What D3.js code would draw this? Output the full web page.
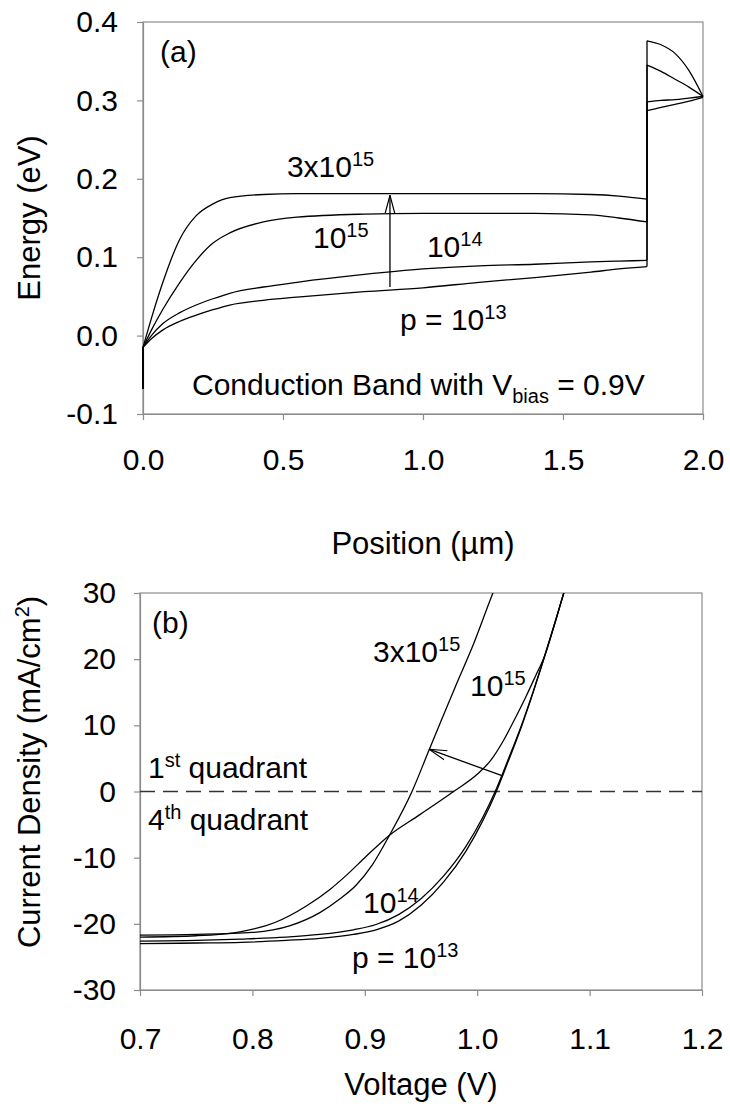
<!DOCTYPE html>
<html>
<head>
<meta charset="utf-8">
<script src="https://cdn.jsdelivr.net/npm/d3@7"></script>
<style>
  body { margin: 0; background: #fff; }
  text { font-family: "Liberation Sans", Arial, sans-serif; fill: #000; white-space: pre; }
</style>
</head>
<body>
<svg id="chart" width="730" height="1106"></svg>
<script>
// ---- panel (a): conduction band, energy vs position ----
const posA = [0, 0, 0.03, 0.07, 0.13, 0.19, 0.25, 0.31, 0.43, 0.55, 0.79, 1.0, 1.2, 1.4, 1.6, 1.7, 1.8, 1.8, 1.85, 1.9, 1.95, 2.0];
const energy3e15 = [-0.068, -0.015, 0.022, 0.067, 0.122, 0.153, 0.168, 0.176, 0.180, 0.181, 0.181, 0.181, 0.181, 0.181, 0.180, 0.178, 0.174, 0.376, 0.371, 0.360, 0.338, 0.305];
const energy1e15 = [-0.068, -0.015, 0.007, 0.033, 0.067, 0.096, 0.118, 0.131, 0.145, 0.151, 0.155, 0.156, 0.156, 0.156, 0.154, 0.150, 0.145, 0.345, 0.337, 0.327, 0.317, 0.305];
const energy1e14 = [-0.068, -0.015, 0.000, 0.015, 0.029, 0.039, 0.047, 0.054, 0.062, 0.068, 0.078, 0.085, 0.089, 0.091, 0.094, 0.095, 0.096, 0.298, 0.300, 0.301, 0.303, 0.305];
const energy1e13 = [-0.068, -0.015, -0.004, 0.007, 0.018, 0.026, 0.033, 0.039, 0.045, 0.049, 0.056, 0.061, 0.068, 0.074, 0.081, 0.085, 0.088, 0.287, 0.291, 0.295, 0.299, 0.304];
const ticksPos = [0, 0.5, 1.0, 1.5, 2.0];
const ticksEnergy = [-0.1, 0, 0.1, 0.2, 0.3, 0.4];
const arrowA = [[0.882, 0.062], [0.882, 0.179]];

// ---- panel (b): J-V curves ----
const volt3e15 = [0.70, 0.75, 0.80, 0.833, 0.86, 0.878, 0.892, 0.907, 0.922, 0.942, 0.957, 0.967, 0.98, 0.997, 1.014, 1.025];
const curr3e15 = [-21.7, -21.6, -21.3, -20.3, -18.3, -16.2, -14.2, -11.0, -6.6, 0, 6.2, 10.3, 15.6, 22.4, 30, 34.5];
const volt1e15 = [0.70, 0.75, 0.789, 0.82, 0.848, 0.869, 0.884, 0.90, 0.922, 0.949, 0.979, 1.0, 1.012, 1.023, 1.033, 1.043, 1.052, 1.06, 1.07, 1.077, 1.083];
const curr1e15 = [-22.0, -21.8, -21.2, -19.8, -17.3, -14.8, -12.6, -10.0, -6.6, -3.5, 0, 2.6, 4.7, 7.6, 10.8, 14.2, 17.5, 20.5, 26.0, 30, 33.3];
const volt1e14 = [0.70, 0.75, 0.79, 0.83, 0.86, 0.89, 0.91, 0.93, 0.95, 0.97, 0.99, 1.005, 1.016, 1.027, 1.04, 1.05, 1.06, 1.07, 1.077, 1.083];
const curr1e14 = [-22.6, -22.5, -22.3, -22.0, -21.6, -20.9, -20.1, -18.6, -16.2, -12.8, -8.3, -3.9, 0, 4.6, 10.3, 15.2, 20.5, 26.0, 30, 33.3];
const volt1e13 = [0.70, 0.75, 0.79, 0.83, 0.86, 0.89, 0.91, 0.93, 0.95, 0.97, 0.99, 1.005, 1.016, 1.027, 1.04, 1.05, 1.06, 1.07, 1.077, 1.083];
const curr1e13 = [-23.0, -22.9, -22.8, -22.5, -22.2, -21.6, -20.9, -19.6, -17.2, -13.7, -9.0, -4.4, -0.4, 4.3, 10.1, 15.1, 20.4, 25.9, 30, 33.3];
const ticksVolt = [0.7, 0.8, 0.9, 1.0, 1.1, 1.2];
const ticksCurr = [-30, -20, -10, 0, 10, 20, 30];
const arrowB = [[1.022, 2.4], [0.957, 6.4]];

const svg = d3.select('#chart');
svg.append('rect').attr('width', 730).attr('height', 1106).attr('fill', '#fff');

// open arrow head
svg.append('defs').append('marker')
    .attr('id', 'head')
    .attr('viewBox', '0 -6 18 12')
    .attr('markerUnits', 'userSpaceOnUse')
    .attr('markerWidth', 18)
    .attr('markerHeight', 12)
    .attr('refX', 18)
    .attr('refY', 0)
    .attr('orient', 'auto')
  .append('path')
    .attr('d', 'M0,-4.8 L18,0 L0,4.8')
    .attr('fill', 'none')
    .attr('stroke', '#000')
    .attr('stroke-width', 1.2);

const FS = 30;     // main font size
const FT = 31;     // axis title size
const SUP = 20;    // super/subscript size

// text with superscript / subscript parts: [str, 'sup'|'sub'|undefined]
function richText(g, x, y, parts, anchor, size) {
  const fs = size || FS;
  const t = g.append('text').attr('x', x).attr('y', y)
      .style('font-size', fs + 'px')
      .attr('text-anchor', anchor || 'start');
  let shift = 0;
  parts.forEach(([s, kind]) => {
    const target = kind === 'sup' ? -11 : kind === 'sub' ? 8 : 0;
    t.append('tspan')
        .attr('dy', target - shift)
        .style('font-size', (kind ? SUP : fs) + 'px')
        .text(s);
    shift = target;
  });
  return t;
}

// splits a polyline where x repeats, so vertical jumps stay straight
function segments(xs, ys) {
  const segs = [];
  let cur = [[xs[0], ys[0]]];
  for (let i = 1; i < xs.length; i++) {
    if (xs[i] === xs[i - 1]) {
      if (cur.length > 1) segs.push(cur);
      segs.push([[xs[i - 1], ys[i - 1]], [xs[i], ys[i]]]);
      cur = [[xs[i], ys[i]]];
    } else {
      cur.push([xs[i], ys[i]]);
    }
  }
  if (cur.length > 1) segs.push(cur);
  return segs;
}

function drawFrame(g, x, y, xTicks, yTicks, fmtX, fmtY, padX, padY) {
  const [x0, x1] = x.range();
  const [y0, y1] = y.range();
  g.append('rect')
      .attr('x', x0).attr('y', y1)
      .attr('width', x1 - x0).attr('height', y0 - y1)
      .attr('fill', 'none').attr('stroke', '#8c8c8c').attr('stroke-width', 1.2);

  const ax = g.append('g').attr('transform', `translate(0,${y0})`)
      .call(d3.axisBottom(x).tickValues(xTicks).tickFormat(fmtX).tickSize(6).tickSizeOuter(0).tickPadding(padX));
  const ay = g.append('g').attr('transform', `translate(${x0},0)`)
      .call(d3.axisLeft(y).tickValues(yTicks).tickFormat(fmtY).tickSize(6).tickSizeOuter(0).tickPadding(padY));
  [ax, ay].forEach(a => {
    a.select('.domain').attr('stroke', '#8c8c8c').attr('stroke-width', 1.2);
    a.selectAll('.tick line').attr('stroke', '#8c8c8c').attr('stroke-width', 1.2);
    a.selectAll('.tick text').attr('fill', '#000')
        .style('font-size', FS + 'px')
        .style('font-family', '"Liberation Sans", Arial, sans-serif');
  });
}

// ================= panel (a) =================
const xA = d3.scaleLinear().domain([0, 2]).range([143, 703]);
const yA = d3.scaleLinear().domain([-0.1, 0.4]).range([414, 22]);
const gA = svg.append('g');

drawFrame(gA, xA, yA, ticksPos, ticksEnergy, d => d.toFixed(1), d => d.toFixed(1), 29, 19);

const lineA = d3.line().x(d => xA(d[0])).y(d => yA(d[1])).curve(d3.curveMonotoneX);
[energy3e15, energy1e15, energy1e14, energy1e13].forEach(e => {
  segments(posA, e).forEach(seg => {
    gA.append('path').datum(seg)
        .attr('d', lineA)
        .attr('fill', 'none').attr('stroke', '#000').attr('stroke-width', 1.3);
  });
});

gA.append('line')
    .attr('x1', xA(arrowA[0][0])).attr('y1', yA(arrowA[0][1]))
    .attr('x2', xA(arrowA[1][0])).attr('y2', yA(arrowA[1][1]))
    .attr('stroke', '#000').attr('stroke-width', 1.3)
    .attr('marker-end', 'url(#head)');

richText(gA, xA(0.061), yA(0.349), [['(a)']]);
richText(gA, xA(0.514), yA(0.2024), [['3x10'], ['15', 'sup']]);
richText(gA, xA(0.607), yA(0.112), [['10'], ['15', 'sup']]);
richText(gA, xA(1.014), yA(0.0998), [['10'], ['14', 'sup']]);
richText(gA, xA(0.918), yA(0.0073), [['p = 10'], ['13', 'sup']]);
richText(gA, xA(0.175), yA(-0.0756), [['Conduction Band with V'], ['bias', 'sub'], [' = 0.9V']]);

richText(gA, (xA.range()[0] + xA.range()[1]) / 2, 554, [['Position ('], ['\u00b5m'], [')']], 'middle', FT);
richText(gA, 0, 0, [['Energy (eV)']], 'middle', FT)
    .attr('transform', `translate(40,${(yA.range()[0] + yA.range()[1]) / 2}) rotate(-90)`);

// ================= panel (b) =================
const xB = d3.scaleLinear().domain([0.7, 1.2]).range([140, 702]);
const yB = d3.scaleLinear().domain([-30, 30]).range([990, 593]);
const gB = svg.append('g');

drawFrame(gB, xB, yB, ticksVolt, ticksCurr, d => d.toFixed(1), d => String(d), 32, 18);

gB.append('clipPath').attr('id', 'clipB').append('rect')
    .attr('x', 140).attr('y', 593).attr('width', 562).attr('height', 397);

// zero-current line
gB.append('line')
    .attr('x1', xB(0.7)).attr('x2', xB(1.2))
    .attr('y1', yB(0)).attr('y2', yB(0))
    .attr('stroke', '#333').attr('stroke-width', 1.3)
    .attr('stroke-dasharray', '15,8');

const lineB = d3.line().x(d => xB(d[0])).y(d => yB(d[1])).curve(d3.curveMonotoneX);
[[volt3e15, curr3e15], [volt1e15, curr1e15], [volt1e14, curr1e14], [volt1e13, curr1e13]].forEach(([v, j]) => {
  gB.append('path').datum(d3.zip(v, j))
      .attr('d', lineB)
      .attr('clip-path', 'url(#clipB)')
      .attr('fill', 'none').attr('stroke', '#000').attr('stroke-width', 1.3);
});

gB.append('line')
    .attr('x1', xB(arrowB[0][0])).attr('y1', yB(arrowB[0][1]))
    .attr('x2', xB(arrowB[1][0])).attr('y2', yB(arrowB[1][1]))
    .attr('stroke', '#000').attr('stroke-width', 1.3)
    .attr('marker-end', 'url(#head)');

richText(gB, xB(0.7107), yB(23.9), [['(b)']]);
richText(gB, xB(0.9073), yB(19.5), [['3x10'], ['15', 'sup']]);
richText(gB, xB(0.9936), yB(14.5), [['10'], ['15', 'sup']]);
richText(gB, xB(0.7071), yB(2.0), [['1'], ['st', 'sup'], [' quadrant']]);
richText(gB, xB(0.7071), yB(-5.8), [['4'], ['th', 'sup'], [' quadrant']]);
richText(gB, xB(0.8984), yB(-18.3), [['10'], ['14', 'sup']]);
richText(gB, xB(0.8886), yB(-26.6), [['p = 10'], ['13', 'sup']]);

richText(gB, (xB.range()[0] + xB.range()[1]) / 2, 1095, [['Voltage (V)']], 'middle', FT);
richText(gB, 0, 0, [['Current Density (mA/cm'], ['2', 'sup'], [')']], 'middle', FT)
    .attr('transform', 'translate(40,772) rotate(-90)');
</script>
</body>
</html>
